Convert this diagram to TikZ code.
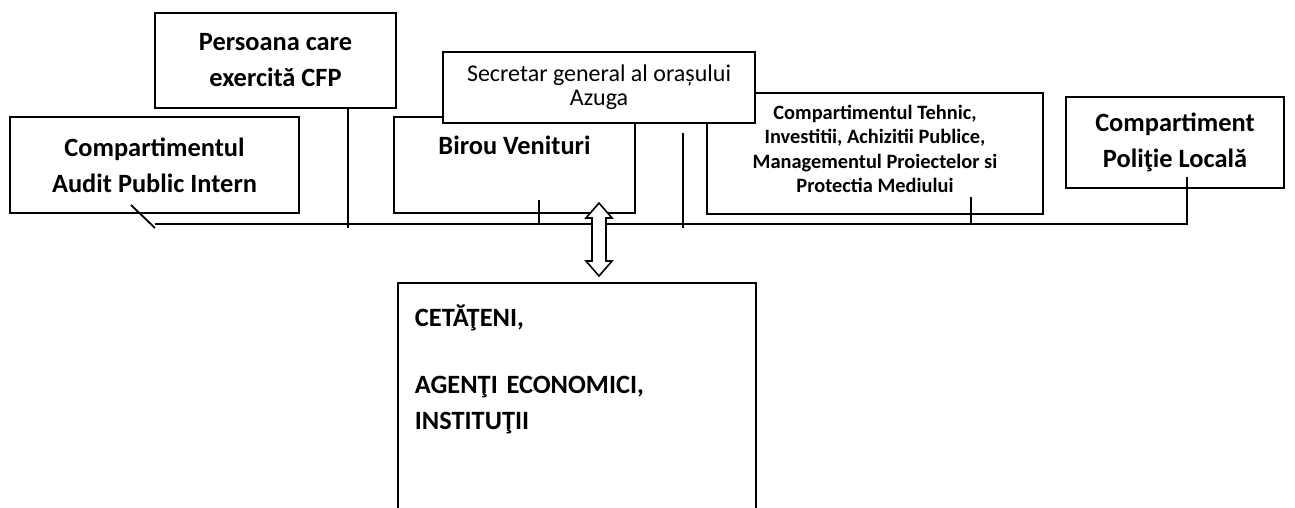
\documentclass[tikz,border=0pt]{standalone}
\usepackage{fontspec}
\setmainfont{Carlito}
\usetikzlibrary{calc}
\begin{document}
\begin{tikzpicture}[x=1pt,y=-1pt,line width=1.8pt,
  box/.style={draw,fill=white,rectangle,inner sep=0pt},
  bigbold/.style={font=\fontsize{26.4}{36}\selectfont\bfseries,align=center},
  smallbold/.style={font=\fontsize{20.4}{24.5}\selectfont\bfseries,align=center},
  plain/.style={font=\fontsize{24}{24}\selectfont,align=center},
  link/.style={line width=1.8pt}]
\useasboundingbox (0,0) rectangle (1295,507);
\clip (0,0) rectangle (1295,507);

% department boxes
\node[box,bigbold,minimum width=289pt,minimum height=96pt] (audit) at (154.5,165)
  {Compartimentul\\Audit Public Intern};
\node[box,bigbold,minimum width=241pt,minimum height=95pt] (pers) at (275.5,60.5)
  {Persoana care\\exercită CFP};
\node[box,minimum width=241pt,minimum height=96pt] (birou) at (514.5,165) {};
\node[bigbold,inner sep=0pt] (birouT) at (514.5,145) {Birou Venituri};
\node[box,minimum width=336pt,minimum height=121pt] (tehnic) at (875,153.5) {};
\node[smallbold,inner sep=0pt] (tehnicT) at (875,149)
  {Compartimentul Tehnic,\\Investitii, Achizitii Publice,\\Managementul Proiectelor si\\Protectia Mediului};
\node[box,plain,minimum width=312pt,minimum height=71pt] (secr) at (599,87.5)
  {Secretar general al orașului\\Azuga};
\node[box,bigbold,minimum width=218pt,minimum height=91pt] (pol) at (1175,142.5)
  {Compartiment\\Poliţie Locală};

% citizens box (continues below the lower edge)
\node[box,minimum width=358pt,minimum height=250pt] (cet) at (577,408) {};
\node[font=\fontsize{26.4}{36}\selectfont\bfseries,text width=330pt,align=left,
  inner sep=0pt,anchor=base west] (cetT) at (414,326)
  {CETĂŢENI,\\[31pt]AGENŢI ECONOMICI,\\INSTITUŢII};

% connection points
\coordinate (auditA) at (131,205);
\coordinate (auditB) at (155,228);
\coordinate (busL) at (155,224);
\coordinate (busR) at (1187,224);
\coordinate (polA) at (1187,177);
\coordinate (persA) at (348,108);
\coordinate (persB) at (348,228);
\coordinate (birA) at (539,200);
\coordinate (birB) at (539,224);
\coordinate (secA) at (683,133);
\coordinate (secB) at (683,228);
\coordinate (tehA) at (971,197);
\coordinate (tehB) at (971,224);

% connectors
\draw[link] (auditA) -- (auditB);
\draw[link] (busL) -- (busR) -- (polA);
\draw[link] (persA) -- (persB);
\draw[link] (birA) -- (birB);
\draw[link] (secA) -- (secB);
\draw[link] (tehA) -- (tehB);

% two-way arrow towards the citizens
\coordinate (arrT) at (599,203);
\coordinate (arrB) at (599,276);
\draw[fill=white,line width=1.6pt] (arrT) -- ($(arrT)+(13,15)$) -- ($(arrT)+(7,15)$)
  -- ($(arrB)+(7,-15)$) -- ($(arrB)+(13,-15)$) -- (arrB) -- ($(arrB)+(-13,-15)$)
  -- ($(arrB)+(-7,-15)$) -- ($(arrT)+(-7,15)$) -- ($(arrT)+(-13,15)$) -- cycle;
\end{tikzpicture}
\end{document}
